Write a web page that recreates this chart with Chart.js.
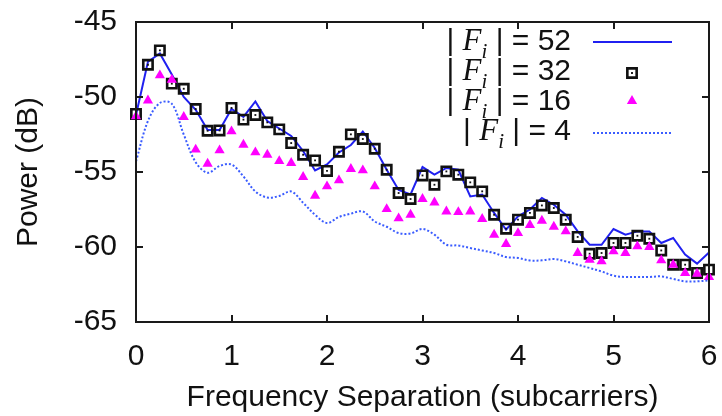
<!DOCTYPE html>
<html>
<head>
<meta charset="utf-8">
<script src="https://cdn.jsdelivr.net/npm/chart.js@4.4.1/dist/chart.umd.min.js"></script>
<style>
  html, body { margin: 0; padding: 0; background: #fff; }
  #wrap { position: relative; width: 722px; height: 416px; }
  #frame { position: absolute; pointer-events: none; box-sizing: border-box; border: 2px solid #1a1a1a; }
  .tick { position: absolute; background: #1a1a1a; pointer-events: none; }
</style>
</head>
<body>
<div id="wrap"><canvas id="psd" width="722" height="416"></canvas><div id="frame"></div></div>
<script>
// frequency separation in subcarriers
const separation = [0, 0.125, 0.25, 0.375, 0.5, 0.625, 0.75, 0.875, 1, 1.125, 1.25, 1.375, 1.5, 1.625, 1.75, 1.875,
  2, 2.125, 2.25, 2.375, 2.5, 2.625, 2.75, 2.875, 3, 3.125, 3.25, 3.375, 3.5, 3.625, 3.75, 3.875,
  4, 4.125, 4.25, 4.375, 4.5, 4.625, 4.75, 4.875, 5, 5.125, 5.25, 5.375, 5.5, 5.625, 5.75, 5.875, 6];

// power (dB) for |F_i| = 52, 32, 16, 4
const power52 = [-51.2, -47.65, -47.1, -48.5, -50.0, -50.85, -52.2, -52.2, -50.8, -51.33, -50.3, -51.6, -52.1,
  -52.6, -53.6, -54.9, -54.5, -53.7, -53.2, -52.3, -53.4, -54.85, -56.2, -56.5, -54.67, -55.18, -54.73, -54.85,
  -56.63, -56.5, -57.73, -58.85, -57.96, -57.5, -56.73, -57.18, -57.85, -58.96, -59.85, -59.85, -58.8, -59.18,
  -58.96, -58.96, -59.73, -59.4, -60.51, -61.11, -60.36];
const power32 = [-51.13, -47.85, -46.89, -49.11, -49.45, -50.8, -52.25, -52.23, -50.73, -51.51, -51.2, -51.69, -52.16,
  -53.07, -53.85, -54.23, -54.93, -53.65, -52.49, -52.8, -53.45, -54.85, -56.4, -56.8, -55.23, -55.85, -54.96, -55.18,
  -55.69, -56.29, -57.85, -58.78, -58.18, -57.73, -57.23, -57.4, -58.18, -59.33, -60.45, -60.4, -59.73, -59.73,
  -59.25, -59.45, -60.23, -61.18, -61.18, -61.73, -61.51];
const power16 = [-51.29, -50.23, -48.56, -48.85, -51.33, -53.51, -54.45, -53.56, -52.29, -53.18, -53.69, -53.85, -54.27,
  -54.4, -55.33, -56.58, -55.96, -55.56, -54.8, -54.89, -55.96, -57.47, -58.09, -57.85, -56.8, -57.03, -57.63, -57.67,
  -57.63, -58.13, -59.18, -59.8, -59.07, -58.53, -58.25, -58.65, -58.96, -60.4, -60.85, -60.96, -60.29, -60.4,
  -59.96, -60, -60.89, -61.18, -61.73, -61.78, -62];
const power4 = [-54.3, -51.6, -50.4, -50.45, -52.5, -54.35, -55.05, -54.6, -54.5, -55.3, -56.3, -56.7, -56.6,
  -56.3, -57.05, -57.85, -58.4, -58.0, -57.78, -57.63, -58.3, -58.65, -59.07, -59.1, -58.8, -59.18, -59.85, -59.9,
  -60.07, -60.23, -60.4, -60.67, -60.73, -60.9, -60.89, -60.8, -60.96, -61.18, -61.4, -61.63, -61.91, -62,
  -62, -62, -61.96, -62.13, -62.29, -62.29, -62.22];

const legendValues = ['52', '32', '16', '4'];
const xTicks = [0, 1, 2, 3, 4, 5, 6];
const yTicks = [-65, -60, -55, -50, -45];

const SANS = '"Liberation Sans", Arial, sans-serif';
const SERIF = '"Liberation Serif", "Times New Roman", serif';
const BLUE = '#2020f0';
const DOT_BLUE = '#3a5cff';
const MAGENTA = '#ff00ff';

const pts = (ys) => separation.map((x, i) => ({ x: x, y: ys[i] }));

const SQ_R = 6.6, SQ_BW = 2.6, DOT_R = 1.3, TRI_R = 5.9;

// legend: "| F_i | = n" with sample on the right
function drawFiLegend(chart) {
  const ctx = chart.ctx;
  const textRight = 571, sampleL = 593, sampleR = 672, sampleX = 632;
  ctx.save();
  ctx.textBaseline = 'alphabetic';
  legendValues.forEach((val, i) => {
    const base = 50 + i * 30;
    const parts = [
      { t: '| ', f: '30px ' + SANS, dy: 0 },
      { t: 'F', f: 'italic 31px ' + SERIF, dy: 0 },
      { t: 'i', f: 'italic 21px ' + SERIF, dy: 8 },
      { t: ' | = ' + val, f: '30px ' + SANS, dy: 0 }
    ];
    let total = 0;
    parts.forEach(p => { ctx.font = p.f; p.w = ctx.measureText(p.t).width; total += p.w; });
    let x = textRight - total;
    ctx.fillStyle = '#111';
    ctx.textAlign = 'left';
    parts.forEach(p => { ctx.font = p.f; ctx.fillText(p.t, x, base + p.dy); x += p.w; });

    if (i === 0 || i === 3) {
      const ly = i === 0 ? 42 : 133;
      ctx.beginPath();
      ctx.lineWidth = 2;
      ctx.strokeStyle = i === 0 ? BLUE : DOT_BLUE;
      ctx.setLineDash(i === 0 ? [] : [2, 2]);
      ctx.moveTo(sampleL, ly); ctx.lineTo(sampleR, ly);
      ctx.stroke();
      ctx.setLineDash([]);
    } else if (i === 1) {
      ctx.fillStyle = 'rgba(0,0,0,0)';
      ctx.strokeStyle = '#111';
      ctx.lineWidth = SQ_BW;
      Chart.helpers.drawPoint(ctx, { pointStyle: 'rect', radius: SQ_R, borderWidth: SQ_BW, rotation: 0 }, sampleX, 73);
      ctx.fillStyle = '#111';
      Chart.helpers.drawPoint(ctx, { pointStyle: 'rect', radius: DOT_R, borderWidth: 0, rotation: 0 }, sampleX, 73);
    } else {
      ctx.fillStyle = MAGENTA;
      Chart.helpers.drawPoint(ctx, { pointStyle: 'triangle', radius: TRI_R, borderWidth: 0, rotation: 0 }, sampleX, 101);
    }
  });
  ctx.restore();
}

// plot box and inward ticks as page elements placed from the chart's scales
function placeFrame(chart) {
  const wrap = document.getElementById('wrap');
  wrap.querySelectorAll('.tick').forEach(el => el.remove());
  const a = chart.chartArea;
  const L = Math.round(a.left), R = Math.round(a.right), T = Math.round(a.top), B = Math.round(a.bottom);
  const fr = document.getElementById('frame');
  fr.style.left = (L - 1) + 'px';
  fr.style.top = (T - 1) + 'px';
  fr.style.width = (R - L + 2) + 'px';
  fr.style.height = (B - T + 2) + 'px';
  const addTick = (x, y, w, h) => {
    const d = document.createElement('div');
    d.className = 'tick';
    d.style.left = x + 'px'; d.style.top = y + 'px';
    d.style.width = w + 'px'; d.style.height = h + 'px';
    wrap.appendChild(d);
  };
  xTicks.forEach(v => {
    const px = Math.round(chart.scales.x.getPixelForValue(v));
    addTick(px - 1, B - 7, 2, 7);
    addTick(px - 1, T, 2, 7);
  });
  yTicks.forEach(v => {
    const py = Math.round(chart.scales.y.getPixelForValue(v));
    addTick(L, py - 1, 7, 2);
    addTick(R - 7, py - 1, 7, 2);
  });
}

const decorPlugin = {
  id: 'fiDecor',
  afterDraw(chart) {
    drawFiLegend(chart);
  }
};

const chart = new Chart(document.getElementById('psd'), {
  type: 'line',
  data: {
    datasets: [
      {
        label: '|Fi| = 4', data: pts(power4), borderColor: DOT_BLUE, borderWidth: 2,
        borderDash: [2, 2], tension: 0.35, pointRadius: 0, fill: false
      },
      {
        label: '|Fi| = 16', data: pts(power16), showLine: false, pointStyle: 'triangle',
        pointRadius: TRI_R, pointBorderWidth: 0, pointBackgroundColor: MAGENTA, pointBorderColor: MAGENTA
      },
      {
        label: '|Fi| = 32 dot', data: pts(power32), showLine: false, pointStyle: 'rect',
        pointRadius: DOT_R, pointBorderWidth: 0, pointBackgroundColor: '#111'
      },
      {
        label: '|Fi| = 32', data: pts(power32), showLine: false, pointStyle: 'rect',
        pointRadius: SQ_R, pointBorderWidth: SQ_BW,
        pointBorderColor: '#111', pointBackgroundColor: 'rgba(0,0,0,0)'
      },
      {
        label: '|Fi| = 52', data: pts(power52), borderColor: BLUE, borderWidth: 2,
        tension: 0, pointRadius: 0, fill: false
      }
    ]
  },
  options: {
    responsive: false,
    devicePixelRatio: 1,
    animation: false,
    clip: false,
    layout: { padding: { left: 0, right: 13, top: 22, bottom: 0 } },
    plugins: { legend: { display: false }, tooltip: { enabled: false } },
    scales: {
      x: {
        type: 'linear', position: 'bottom', min: 0, max: 6,
        grid: { display: false, drawTicks: false },
        border: { display: false },
        afterBuildTicks: (s) => { s.ticks = xTicks.map(v => ({ value: v })); },
        afterFit: (s) => { s.height = 94; s.paddingLeft = 0; s.paddingRight = 0; },
        ticks: { color: '#111', padding: 17, font: { family: SANS, size: 30 } },
        title: { display: true, text: 'Frequency Separation (subcarriers)', color: '#111',
                 padding: { top: 0, bottom: 0 }, font: { family: SANS, size: 30 } }
      },
      y: {
        type: 'linear', position: 'left', min: -65, max: -45,
        grid: { display: false, drawTicks: false },
        border: { display: false },
        afterBuildTicks: (s) => { s.ticks = yTicks.map(v => ({ value: v })); },
        afterFit: (s) => { s.width = 136; s.paddingTop = 0; s.paddingBottom = 0; },
        ticks: { color: '#111', padding: 19, font: { family: SANS, size: 30 } },
        title: { display: true, text: 'Power (dB)', color: '#111',
                 padding: { top: 11, bottom: 0 }, font: { family: SANS, size: 30 } }
      }
    }
  },
  plugins: [decorPlugin]
});

placeFrame(chart);
</script>
</body>
</html>
